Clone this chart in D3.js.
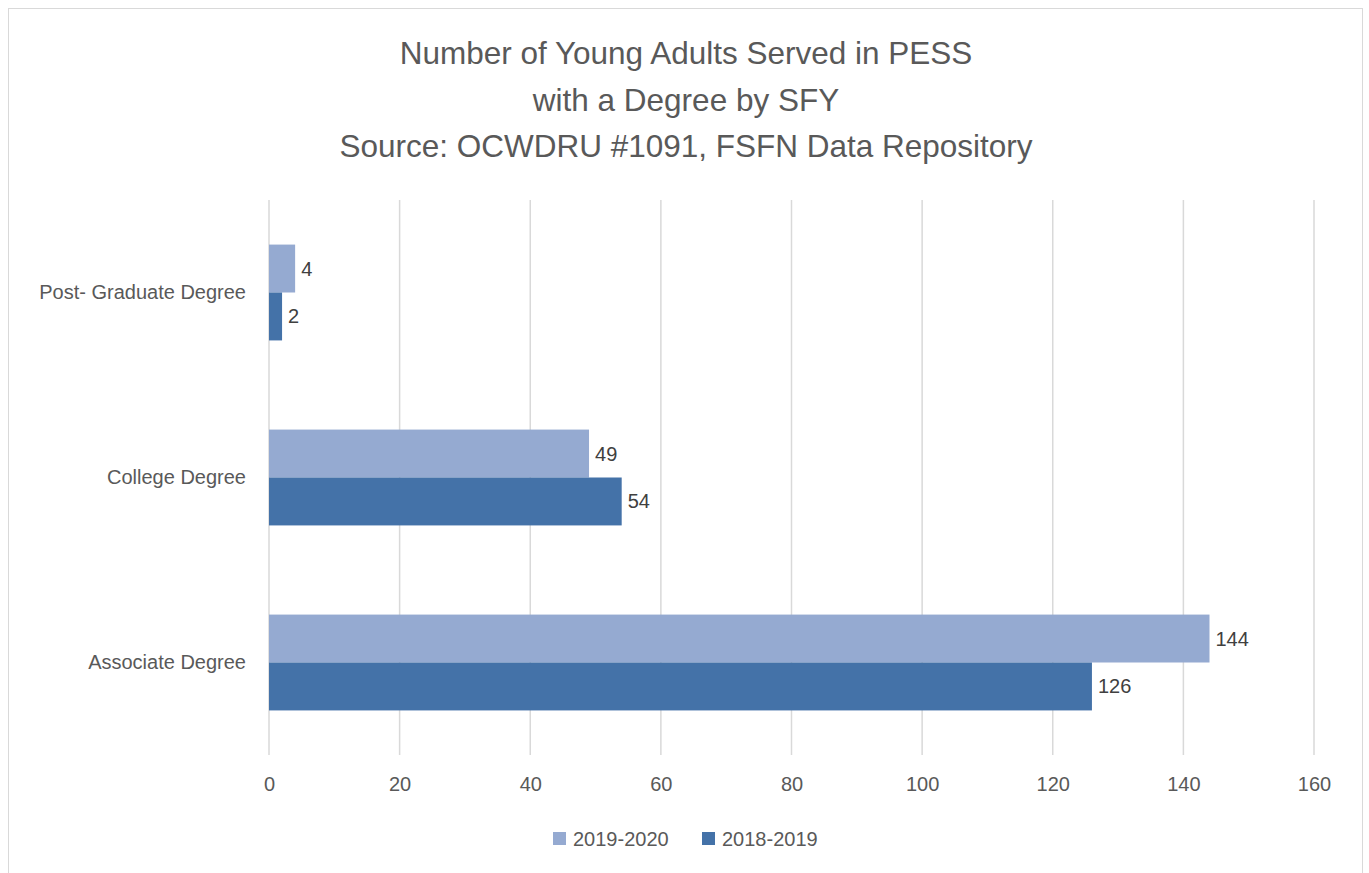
<!DOCTYPE html>
<html>
<head>
<meta charset="utf-8">
<script src="https://cdn.jsdelivr.net/npm/d3@7"></script>
<style>
  html, body { margin: 0; padding: 0; background: #fff; }
  svg { display: block; }
  text { font-family: "Liberation Sans", Arial, sans-serif; }
</style>
</head>
<body>
<svg id="chart" width="1369" height="873"></svg>
<script>
const titleLines = ["Number of Young Adults Served in PESS", "with a Degree by SFY", "Source: OCWDRU #1091, FSFN Data Repository"];
const categories = ["Post- Graduate Degree", "College Degree", "Associate Degree"];
const seriesNames = ["2019-2020", "2018-2019"];
const values2019_2020 = [4, 49, 144];
const values2018_2019 = [2, 54, 126];
const xTicks = [0, 20, 40, 60, 80, 100, 120, 140, 160];
const colors = ["#95aad1", "#4472a8"];

const svg = d3.select("#chart");
const FS = "20px";

// chart border
svg.append("rect").attr("x", 8.5).attr("y", 8.5).attr("width", 1354).attr("height", 880)
  .attr("fill", "#fff").attr("stroke", "#d9d9d9").attr("stroke-width", 1);

// title
const title = svg.append("text").attr("text-anchor", "middle").attr("fill", "#595959")
  .style("font-size", "31.5px");
titleLines.forEach((t, i) => {
  title.append("tspan").attr("x", 686).attr("y", 64 + i * 46.5).text(t);
});

const margin = { left: 269, right: 1314, top: 200, bottom: 755 };
const x = d3.scaleLinear().domain([0, 160]).range([margin.left, margin.right]);
const y = d3.scaleBand().domain(categories).range([margin.top, margin.bottom]);
const inner = d3.scaleBand().domain(seriesNames).range([0, y.bandwidth()]).paddingInner(0).paddingOuter(0.93);

// gridlines
svg.append("g").selectAll("line").data(xTicks).join("line")
  .attr("x1", d => x(d)).attr("x2", d => x(d))
  .attr("y1", margin.top).attr("y2", margin.bottom)
  .attr("stroke", "#d9d9d9").attr("stroke-width", 1.5);

// x axis tick labels
const xAxis = d3.axisBottom(x).tickValues(xTicks).tickSize(0).tickPadding(0);
const gx = svg.append("g").attr("transform", `translate(0, ${margin.bottom + 22})`).call(xAxis);
gx.select(".domain").remove();
gx.selectAll("text").attr("fill", "#595959").style("font-size", FS)
  .style("font-family", "'Liberation Sans', Arial, sans-serif");

// y axis category labels
const yAxis = d3.axisLeft(y).tickSize(0).tickPadding(0);
const gy = svg.append("g").attr("transform", `translate(${margin.left - 23}, 0)`).call(yAxis);
gy.select(".domain").remove();
gy.selectAll("text").attr("fill", "#595959").style("font-size", FS)
  .style("font-family", "'Liberation Sans', Arial, sans-serif");

// bars
const data = categories.map((c, i) => ({
  cat: c,
  vals: [
    { s: seriesNames[0], v: values2019_2020[i], color: colors[0] },
    { s: seriesNames[1], v: values2018_2019[i], color: colors[1] }
  ]
}));

const groups = svg.append("g").selectAll("g").data(data).join("g")
  .attr("transform", d => `translate(0, ${y(d.cat)})`);

groups.selectAll("rect").data(d => d.vals).join("rect")
  .attr("x", x(0))
  .attr("y", d => inner(d.s))
  .attr("width", d => x(d.v) - x(0))
  .attr("height", inner.bandwidth())
  .attr("fill", d => d.color);

groups.selectAll("text.lbl").data(d => d.vals).join("text")
  .attr("class", "lbl")
  .attr("x", d => x(d.v) + 6)
  .attr("y", d => inner(d.s) + inner.bandwidth() / 2)
  .attr("dy", "0.35em")
  .attr("fill", "#404040")
  .style("font-size", FS)
  .text(d => d.v);

// legend
const legend = svg.append("g").attr("transform", "translate(0, 839)");
const legendX = [553, 702];
seriesNames.forEach((s, i) => {
  const g = legend.append("g").attr("transform", `translate(${legendX[i]}, 0)`);
  g.append("rect").attr("x", 0).attr("y", -7).attr("width", 13).attr("height", 13).attr("fill", colors[i]);
  g.append("text").attr("x", 20).attr("y", 0).attr("dy", "0.35em")
    .attr("fill", "#595959").style("font-size", FS).text(s);
});
</script>
</body>
</html>
